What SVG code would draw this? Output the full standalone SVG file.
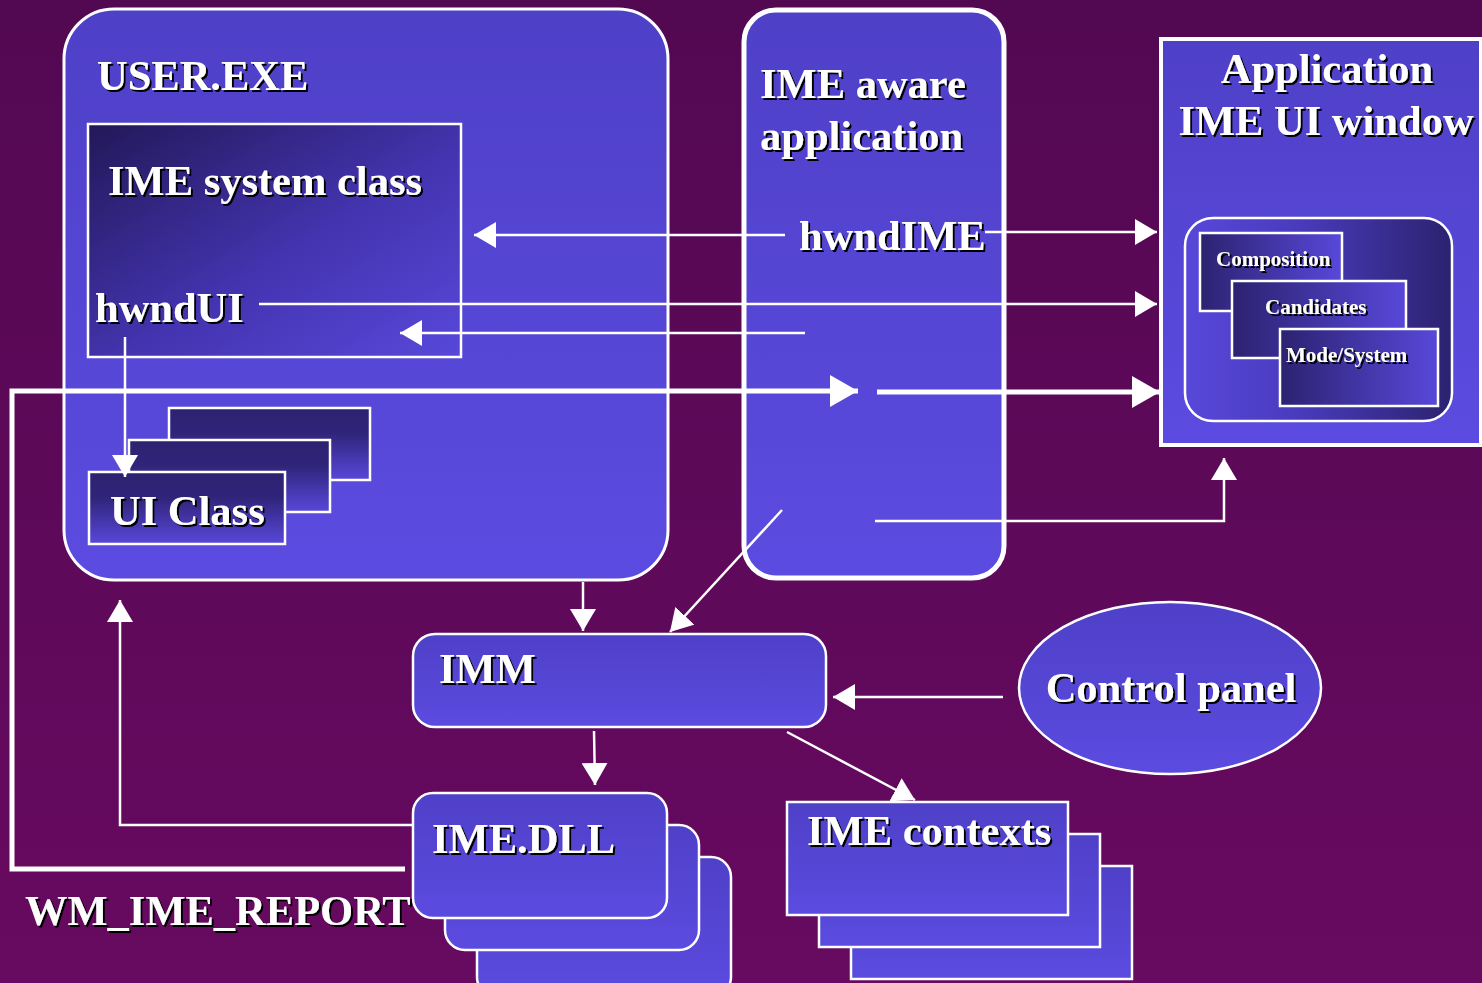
<svg xmlns="http://www.w3.org/2000/svg" width="1482" height="983" viewBox="0 0 1482 983">
<defs>
<linearGradient id="bg" x1="0" y1="0" x2="0" y2="1"><stop offset="0" stop-color="#530852"/><stop offset="1" stop-color="#670a60"/></linearGradient>
<linearGradient id="box" x1="0" y1="0" x2="0" y2="1"><stop offset="0" stop-color="#4f40c8"/><stop offset="1" stop-color="#5b4be0"/></linearGradient>
<linearGradient id="diag" x1="0" y1="0" x2="1" y2="1"><stop offset="0" stop-color="#221858"/><stop offset="0.55" stop-color="#4434b0"/><stop offset="1" stop-color="#5848da"/></linearGradient>
<linearGradient id="vdark" x1="0" y1="0" x2="0" y2="1"><stop offset="0" stop-color="#2c2270"/><stop offset="0.35" stop-color="#30247a"/><stop offset="1" stop-color="#5848da"/></linearGradient>
<linearGradient id="hdark" x1="0" y1="0" x2="1" y2="0"><stop offset="0" stop-color="#2c2270"/><stop offset="1" stop-color="#5848da"/></linearGradient>
<linearGradient id="hlight" x1="0" y1="0" x2="1" y2="0"><stop offset="0" stop-color="#5848da"/><stop offset="0.4" stop-color="#4a3cc0"/><stop offset="1" stop-color="#2c2270"/></linearGradient>
<filter id="sh" x="-10%" y="-20%" width="130%" height="150%"><feDropShadow dx="2" dy="2" stdDeviation="0" flood-color="#000" flood-opacity="1"/></filter>
<marker id="ah" markerUnits="userSpaceOnUse" markerWidth="24" markerHeight="26" refX="22" refY="13" orient="auto"><path d="M0,0 L22,13 L0,26 z" fill="#fff"/></marker>
<marker id="ahb" markerUnits="userSpaceOnUse" markerWidth="30" markerHeight="32" refX="28" refY="16" orient="auto"><path d="M0,0 L28,16 L0,32 z" fill="#fff"/></marker>
</defs>
<style>
.t{font-family:"Liberation Serif","Times New Roman",serif;font-weight:bold;fill:#fff;font-size:42.5px;filter:url(#sh)}
.s{font-size:21px}
.b{stroke:#fff;stroke-width:3}
.ln{stroke:#fff;stroke-width:2.5;fill:none}
.th{stroke:#fff;stroke-width:5;fill:none}
</style>
<rect x="0" y="0" width="1482" height="983" fill="url(#bg)"/>

<g id="user-exe">
<rect x="64" y="9" width="604" height="571" rx="50" fill="url(#box)" class="b"/>
<text class="t" x="97" y="90">USER.EXE</text>
</g>

<g id="ime-system-class">
<rect x="88" y="124" width="373" height="233" fill="url(#diag)" stroke="#fff" stroke-width="2.5"/>
<text class="t" x="108" y="195">IME system class</text>
<text class="t" x="95" y="322">hwndUI</text>
</g>

<g id="ui-class">
<rect x="169" y="408" width="201" height="72" fill="url(#vdark)" stroke="#fff" stroke-width="2.5"/>
<rect x="129" y="440" width="201" height="72" fill="url(#vdark)" stroke="#fff" stroke-width="2.5"/>
<rect x="89" y="472" width="196" height="72" fill="url(#vdark)" stroke="#fff" stroke-width="2.5"/>
<text class="t" x="110" y="525">UI Class</text>
</g>

<g id="ime-aware-app">
<rect x="744" y="10" width="260" height="568" rx="32" fill="url(#box)" stroke="#fff" stroke-width="5"/>
<text class="t" x="760" y="98">IME aware</text>
<text class="t" x="760" y="150">application</text>
<text class="t" x="799" y="250">hwndIME</text>
</g>

<g id="app-ime-ui-window">
<rect x="1161" y="39" width="320" height="406" fill="url(#box)" stroke="#fff" stroke-width="4"/>
<text class="t" x="1327" y="83" text-anchor="middle">Application</text>
<text class="t" x="1326" y="135" text-anchor="middle">IME UI window</text>
<rect x="1185" y="218" width="267" height="203" rx="28" fill="url(#hlight)" stroke="#fff" stroke-width="2.5"/>
</g>

<g id="composition">
<rect x="1200" y="233" width="142" height="78" fill="url(#hdark)" stroke="#fff" stroke-width="2.5"/>
<text class="t s" x="1216" y="266">Composition</text>
</g>
<g id="candidates">
<rect x="1232" y="281" width="174" height="77" fill="url(#hdark)" stroke="#fff" stroke-width="2.5"/>
<text class="t s" x="1265" y="314">Candidates</text>
</g>
<g id="mode-system">
<rect x="1280" y="329" width="158" height="77" fill="url(#hdark)" stroke="#fff" stroke-width="2.5"/>
<text class="t s" x="1286" y="362">Mode/System</text>
</g>

<g id="imm">
<rect x="413" y="634" width="413" height="93" rx="22" fill="url(#box)" stroke="#fff" stroke-width="2.5"/>
<text class="t" x="439" y="683">IMM</text>
</g>

<g id="ime-dll">
<rect x="477" y="857" width="254" height="140" rx="20" fill="url(#box)" stroke="#fff" stroke-width="2.5"/>
<rect x="445" y="825" width="254" height="125" rx="20" fill="url(#box)" stroke="#fff" stroke-width="2.5"/>
<rect x="413" y="793" width="254" height="125" rx="20" fill="url(#box)" stroke="#fff" stroke-width="2.5"/>
<text class="t" x="432" y="853">IME.DLL</text>
</g>

<g id="ime-contexts">
<rect x="851" y="866" width="281" height="113" fill="url(#box)" stroke="#fff" stroke-width="2.5"/>
<rect x="819" y="834" width="281" height="113" fill="url(#box)" stroke="#fff" stroke-width="2.5"/>
<rect x="787" y="802" width="281" height="113" fill="url(#box)" stroke="#fff" stroke-width="2.5"/>
<text class="t" x="807" y="845">IME contexts</text>
</g>

<g id="control-panel">
<ellipse cx="1170" cy="688" rx="151" ry="86" fill="url(#box)" stroke="#fff" stroke-width="2.5"/>
<text class="t" x="1171" y="702" text-anchor="middle">Control panel</text>
</g>

<g id="wm-ime-report-label">
<text class="t" x="25" y="925">WM_IME_REPORT</text>
</g>

<g id="connectors">
<path class="ln" d="M785,235 H474" marker-end="url(#ah)"/>
<path class="ln" d="M985,232 H1157" marker-end="url(#ah)"/>
<path class="ln" d="M259,304 H1157" marker-end="url(#ah)"/>
<path class="ln" d="M805,333 H400" marker-end="url(#ah)"/>
<path class="ln" d="M125,337 V477" marker-end="url(#ah)"/>
<path class="th" d="M405,869 H12 V391 H858" marker-end="url(#ahb)"/>
<path class="th" d="M877,392 H1160" marker-end="url(#ahb)"/>
<path class="ln" d="M875,521 H1224 V458" marker-end="url(#ah)"/>
<path class="ln" d="M782,510 L670,632" marker-end="url(#ah)"/>
<path class="ln" d="M583,582 V631" marker-end="url(#ah)"/>
<path class="ln" d="M1003,697 H833" marker-end="url(#ah)"/>
<path class="ln" d="M594,731 L595,785" marker-end="url(#ah)"/>
<path class="ln" d="M787,732 L915,800" marker-end="url(#ah)"/>
<path class="ln" d="M413,825 H120 V600" marker-end="url(#ah)"/>
</g>
</svg>
